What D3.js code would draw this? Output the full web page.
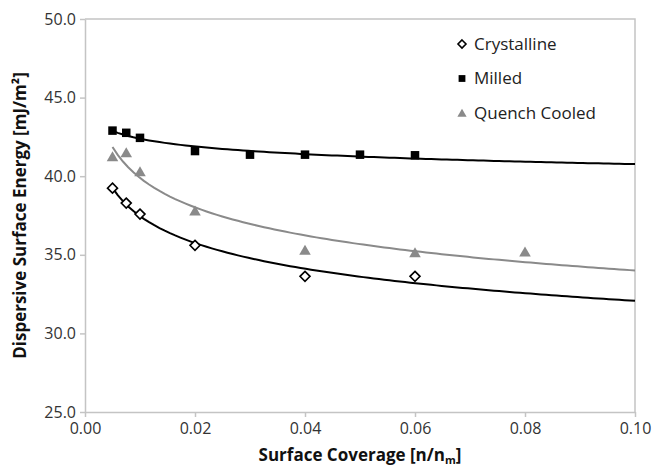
<!DOCTYPE html>
<html>
<head>
<meta charset="utf-8">
<script src="https://cdn.jsdelivr.net/npm/d3@7"></script>
<style>
  body { margin: 0; background: #fff; }
  svg { display: block; }
</style>
</head>
<body>
<div id="chart"></div>
<script>
// data
var crystallineX = [0.005, 0.0075, 0.01, 0.02, 0.04, 0.06];
var crystallineY = [39.24, 38.29, 37.59, 35.6, 33.63, 33.63];

var milledX = [0.005, 0.0075, 0.01, 0.02, 0.03, 0.04, 0.05, 0.06];
var milledY = [42.9, 42.76, 42.44, 41.6, 41.37, 41.37, 41.37, 41.33];

var quenchX = [0.005, 0.0075, 0.01, 0.02, 0.04, 0.06, 0.08];
var quenchY = [41.25, 41.5, 40.3, 37.8, 35.3, 35.15, 35.2];

var seriesNames = ['Crystalline', 'Milled', 'Quench Cooled'];
var xTicks = [0, 0.02, 0.04, 0.06, 0.08, 0.10];
var yTicks = [25, 30, 35, 40, 45, 50];

var attrs = {
  svgWidth: 654,
  svgHeight: 469,
  marginLeft: 85,
  marginRight: 19,
  marginTop: 19,
  marginBottom: 57,
  font: '"Open Sans", "DejaVu Sans", sans-serif',
  axisColor: '#c4c4c4',
  gray: '#8a8a8a'
};

var series = [
  { name: seriesNames[0], xs: crystallineX, ys: crystallineY, marker: 'diamond', line: '#000' },
  { name: seriesNames[1], xs: milledX, ys: milledY, marker: 'square', line: '#000' },
  { name: seriesNames[2], xs: quenchX, ys: quenchY, marker: 'triangle', line: attrs.gray }
];

var calc = {};
calc.chartWidth = attrs.svgWidth - attrs.marginLeft - attrs.marginRight;
calc.chartHeight = attrs.svgHeight - attrs.marginTop - attrs.marginBottom;

var x = d3.scaleLinear().domain([0, 0.1]).range([0, calc.chartWidth]);
var y = d3.scaleLinear().domain([25, 50]).range([calc.chartHeight, 0]);

// power trendline y = a * x^b, least squares in log-log space (like Excel)
function powerFit(xs, ys) {
  var lx = xs.map(Math.log), ly = ys.map(Math.log);
  var mx = d3.mean(lx), my = d3.mean(ly);
  var sxy = d3.sum(lx, (v, i) => (v - mx) * (ly[i] - my));
  var sxx = d3.sum(lx, v => (v - mx) * (v - mx));
  var b = sxy / sxx;
  var a = Math.exp(my - b * mx);
  return t => a * Math.pow(t, b);
}

var svg = d3.select('#chart').append('svg')
  .attr('width', attrs.svgWidth)
  .attr('height', attrs.svgHeight)
  .attr('font-family', attrs.font);

var chart = svg.append('g')
  .attr('transform', 'translate(' + attrs.marginLeft + ',' + attrs.marginTop + ')');

// plot frame (top + right)
chart.append('path')
  .attr('d', 'M0,0H' + calc.chartWidth + 'V' + calc.chartHeight)
  .attr('fill', 'none')
  .attr('stroke', attrs.axisColor)
  .attr('stroke-width', 1.5);

// axes
var xAxis = chart.append('g')
  .attr('transform', 'translate(0,' + calc.chartHeight + ')')
  .call(d3.axisBottom(x).tickValues(xTicks).tickFormat(d3.format('.2f')).tickSizeInner(5).tickSizeOuter(0).tickPadding(6));

var yAxis = chart.append('g')
  .call(d3.axisLeft(y).tickValues(yTicks).tickFormat(d3.format('.1f')).tickSizeInner(5).tickSizeOuter(0).tickPadding(4));

[xAxis, yAxis].forEach(ax => {
  ax.select('.domain').attr('stroke', attrs.axisColor).attr('stroke-width', 1.5);
  ax.selectAll('.tick line').attr('stroke', attrs.axisColor).attr('stroke-width', 1.5);
  ax.selectAll('.tick text')
    .attr('fill', '#333')
    .attr('font-size', 16)
    .attr('font-family', attrs.font);
});

// trendlines
var line = d3.line().x(d => x(d[0])).y(d => y(d[1]));
series.forEach(s => {
  var f = powerFit(s.xs, s.ys);
  var x0 = d3.min(s.xs);
  var pts = d3.range(0, 101).map(i => {
    var t = x0 + (0.1 - x0) * i / 100;
    return [t, f(t)];
  });
  chart.append('path')
    .datum(pts)
    .attr('d', line)
    .attr('fill', 'none')
    .attr('stroke', s.line)
    .attr('stroke-width', 2);
});

// markers
function drawMarker(g, type, size) {
  if (type === 'diamond') {
    var h = size / 2;
    g.append('path')
      .attr('d', 'M0,' + (-h) + 'L' + h + ',0L0,' + h + 'L' + (-h) + ',0Z')
      .attr('fill', '#fff')
      .attr('stroke', '#000')
      .attr('stroke-width', 1.6);
  } else if (type === 'square') {
    var q = size * 0.85;
    g.append('rect')
      .attr('x', -q / 2).attr('y', -q / 2)
      .attr('width', q).attr('height', q)
      .attr('fill', '#000');
  } else {
    var w = size * 1.05;
    g.append('path')
      .attr('d', 'M0,' + (-w * 0.5) + 'L' + (w * 0.55) + ',' + (w * 0.45) + 'L' + (-w * 0.55) + ',' + (w * 0.45) + 'Z')
      .attr('fill', attrs.gray);
  }
}

series.forEach(s => {
  s.xs.forEach((xv, i) => {
    var g = chart.append('g')
      .attr('transform', 'translate(' + x(xv) + ',' + y(s.ys[i]) + ')');
    drawMarker(g, s.marker, 10);
  });
});

// legend
var legend = svg.append('g').attr('transform', 'translate(462,44)');
series.forEach((s, i) => {
  var row = legend.append('g').attr('transform', 'translate(0,' + (i * 34.5) + ')');
  drawMarker(row, s.marker, 8);
  row.append('text')
    .attr('x', 12)
    .attr('dy', '0.35em')
    .attr('font-size', 17)
    .attr('fill', '#222')
    .text(s.name);
});

// axis titles
var xTitle = svg.append('text')
  .attr('x', attrs.marginLeft + calc.chartWidth / 2)
  .attr('y', 461)
  .attr('text-anchor', 'middle')
  .attr('font-size', 17)
  .attr('font-weight', 'bold')
  .attr('fill', '#111');
xTitle.append('tspan').text('Surface Coverage [n/n');
xTitle.append('tspan').attr('font-size', 11).attr('dy', 3).text('m');
xTitle.append('tspan').attr('dy', -3).text(']');

svg.append('text')
  .attr('transform', 'translate(26,' + (attrs.marginTop + calc.chartHeight / 2) + ') rotate(-90)')
  .attr('text-anchor', 'middle')
  .attr('font-size', 17)
  .attr('font-weight', 'bold')
  .attr('fill', '#111')
  .text('Dispersive Surface Energy [mJ/m²]');
</script>
</body>
</html>
